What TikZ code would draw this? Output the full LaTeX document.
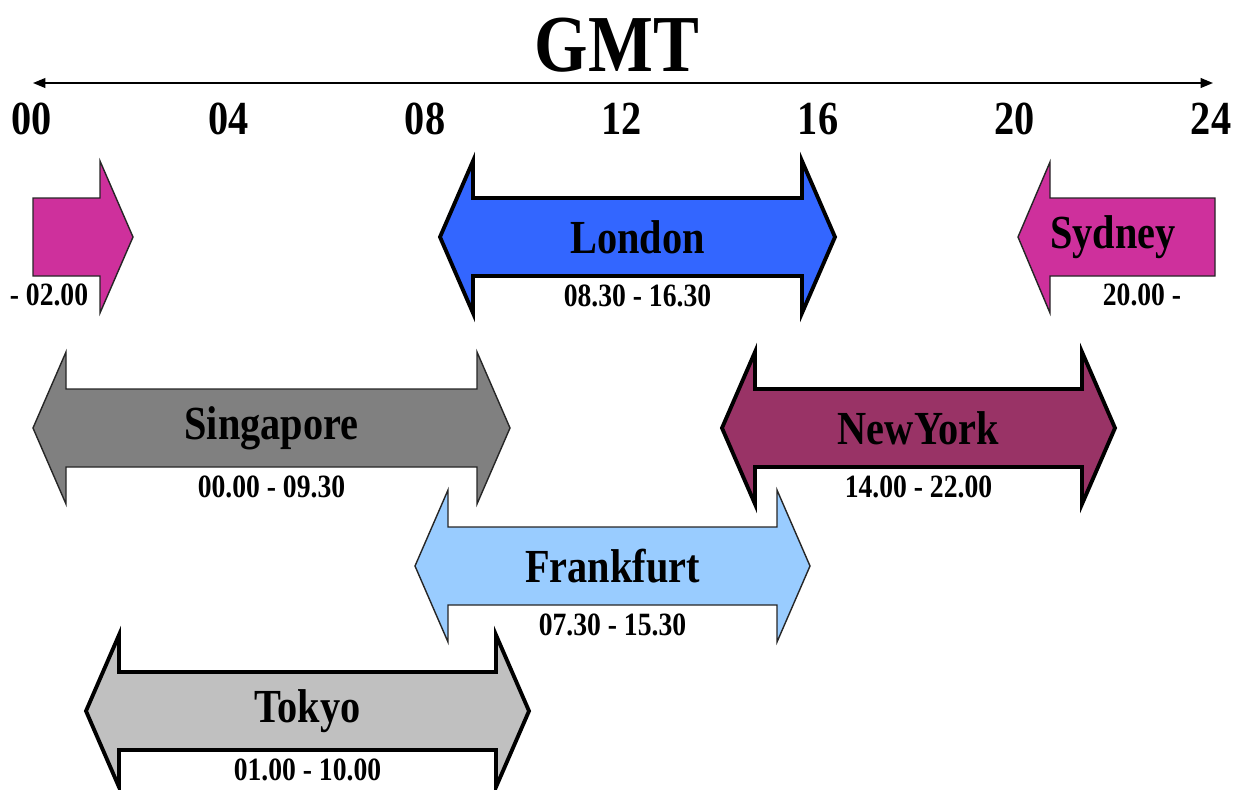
\documentclass[tikz,border=0pt]{standalone}
\usepackage{fontspec}
\setmainfont{Liberation Serif}[FakeStretch=0.85]
\usetikzlibrary{arrows.meta}
\definecolor{pinkarr}{RGB}{206,48,156}
\definecolor{londonblue}{RGB}{51,102,255}
\definecolor{singgray}{RGB}{128,128,128}
\definecolor{nymaroon}{RGB}{153,51,102}
\definecolor{frankblue}{RGB}{153,204,255}
\definecolor{tokyogray}{RGB}{192,192,192}

\begin{document}
\begin{tikzpicture}[x=0.02cm,y=-0.02cm,
    boldarr/.style={draw=black,line width=2.2pt},
    thinarr/.style={draw=black!85,line width=0.8pt},
    londonarrow/.style={boldarr,fill=londonblue},
    singarrow/.style={thinarr,fill=singgray},
    nyarrow/.style={boldarr,fill=nymaroon},
    frankarrow/.style={thinarr,fill=frankblue},
    tokyoarrow/.style={boldarr,fill=tokyogray},
    pinkarrow/.style={thinarr,fill=pinkarr},
    city/.style={font=\fontsize{27}{30}\selectfont\bfseries},
    hours/.style={font=\fontsize{18.5}{20}\selectfont\bfseries},
    tick/.style={font=\fontsize{27}{30}\selectfont\bfseries}]
  \useasboundingbox (0,0) rectangle (1244,789);
  \node[font=\fontsize{46}{50}\selectfont\bfseries] (gmt) at (617,45) {GMT};
  \coordinate (start) at (33,83);
  \coordinate (end) at (1213,83);
  \draw[{Triangle[length=7pt,width=5.5pt]}-{Triangle[length=7pt,width=5.5pt]},line width=1pt] (start) -- (end);
  \foreach \h [count=\i from 0] in {00,04,08,12,16,20,24}
    \node[tick] (t\h) at (32+196.5*\i,119) {\h};
  \foreach \l/\r/\y/\s/\n/\city/\hrs in {
      440/835/237/londonarrow/london/London/08.30 - 16.30,
      33/510/428/singarrow/singapore/Singapore/00.00 - 09.30,
      722/1115/428/nyarrow/newyork/NewYork/14.00 - 22.00,
      415/810/566/frankarrow/frankfurt/Frankfurt/07.30 - 15.30,
      86/529/711/tokyoarrow/tokyo/Tokyo/01.00 - 10.00}{
    \filldraw[\s] (\l,\y) -- ++(33,-76) -- ++(0,37) -- (\r-33,\y-39) -- ++(0,-37)
      -- (\r,\y) -- ++(-33,76) -- ++(0,-37) -- (\l+33,\y+39) -- ++(0,37) -- cycle;
    \node[city] (\n) at ({(\l+\r)/2},\y) {\city};
    \node[hours] (\n-hrs) at ({(\l+\r)/2},\y+59) {\hrs};
  }
  \filldraw[pinkarrow] (33,198) -- (100,198) -- (100,161) -- (133,237) -- (100,313)
    -- (100,276) -- (33,276) -- cycle;
  \node[hours] (wrap-hrs) at (49,295) {- 02.00};
  \filldraw[pinkarrow] (1215,198) -- (1050,198) -- (1050,162) -- (1018,237) -- (1050,313)
    -- (1050,276) -- (1215,276) -- cycle;
  \node[city] (sydney) at (1113,237) {Sydney};
  \node[hours] (sydney-hrs) at (1142,295) {20.00 -};
\end{tikzpicture}
\end{document}
